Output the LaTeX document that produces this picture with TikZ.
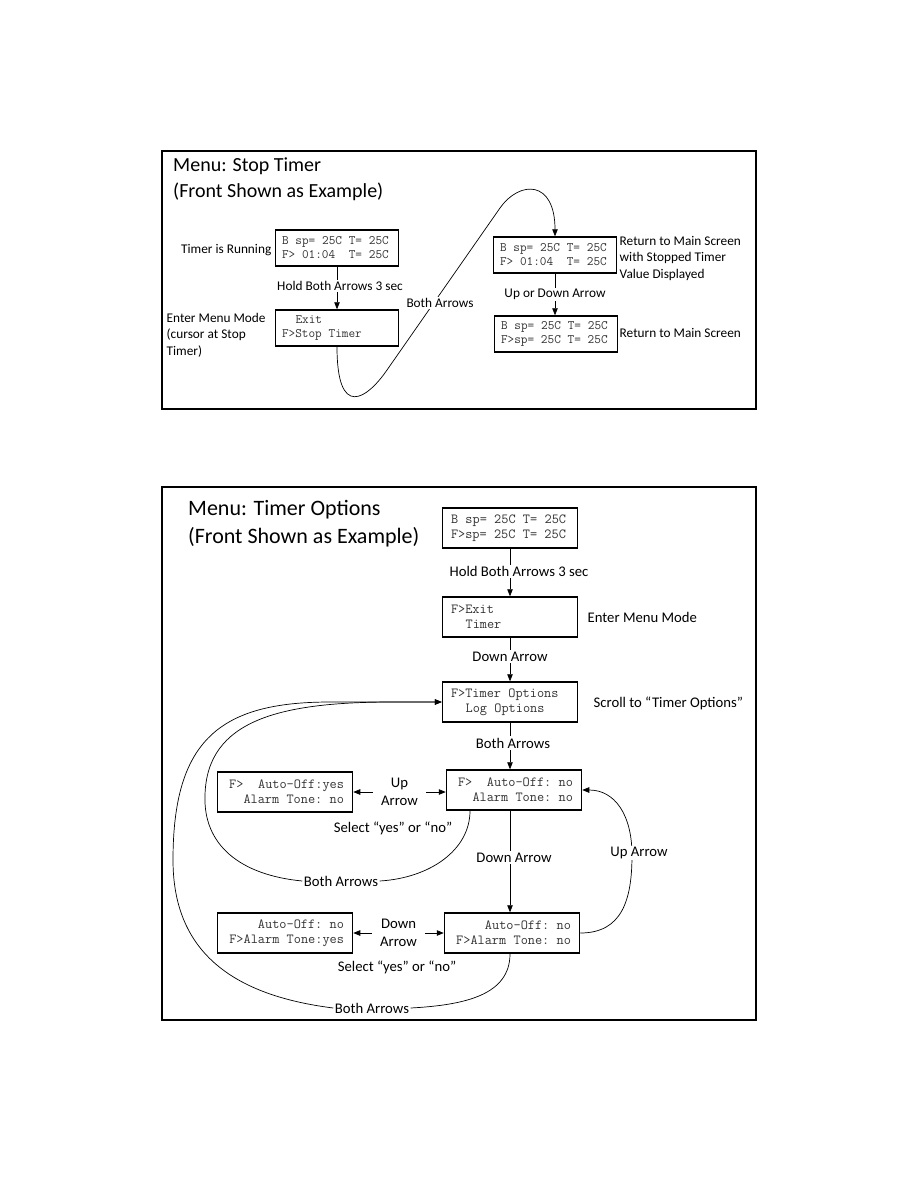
\documentclass[tikz,border=0pt]{standalone}
\usepackage{fontspec}
\setmainfont{Carlito}
\usetikzlibrary{arrows.meta}
\newcommand\lcdgap{\hspace*{0.525em}}

\begin{document}
\begin{tikzpicture}[x=1pt, y=-1pt,
    lcdtop/.style={draw, line width=1.5pt, minimum width=123pt, minimum height=36pt, inner sep=0pt, text width=110pt, text=black!80, font=\ttfamily\fontsize{12.9}{14}\selectfont},
    lcdbot/.style={draw, line width=1.5pt, minimum width=135pt, minimum height=40pt, inner sep=0pt, text width=118pt, text=black!80, font=\ttfamily\fontsize{13.9}{15}\selectfont},
    lbltop/.style={inner sep=1.5pt, font=\fontsize{13.3}{16.5}\selectfont},
    lblbot/.style={inner sep=1.5pt, font=\fontsize{14.7}{17.5}\selectfont},
    ttl/.style={anchor=west, align=left, inner sep=0pt},
    arr/.style={line width=0.7pt, -{Triangle[length=7pt,width=5.5pt]}},
    twoway/.style={line width=0.7pt, {Triangle[length=7pt,width=5.5pt]}-{Triangle[length=7pt,width=5.5pt]}},
    panel/.style={line width=1.2pt}]
    \fill[white] (0,0) rectangle (918,1188);
    \useasboundingbox (0,0) rectangle (918,1188);

    % stop timer
    \draw[panel] (162,151) rectangle (756,409);
    \draw[line width=2.5pt] (162,409) -- (756,409);
    \node[ttl, font=\fontsize{20}{26}\selectfont] (title1) at (173,179) {Menu: Stop Timer\\(Front Shown as Example)};

    \node[lcdtop, align=left] (run) at (337,248) {B\lcdgap sp=\lcdgap 25C\lcdgap T=\lcdgap 25C\\F>\lcdgap 01:04\lcdgap\lcdgap T=\lcdgap 25C};
    \node[lcdtop, align=left] (menu) at (337,328) {\lcdgap\lcdgap Exit\\F>Stop\lcdgap Timer};
    \node[lcdtop, align=left] (stop) at (555,255) {B\lcdgap sp=\lcdgap 25C\lcdgap T=\lcdgap 25C\\F>\lcdgap 01:04\lcdgap\lcdgap T=\lcdgap 25C};
    \node[lcdtop, align=left] (main) at (556,334) {B\lcdgap sp=\lcdgap 25C\lcdgap T=\lcdgap 25C\\F>sp=\lcdgap 25C\lcdgap T=\lcdgap 25C};

    \node[lbltop, anchor=east] (lrun) at (273,250) {Timer is Running};
    \node[lbltop, anchor=west, align=left] (lmenu) at (165,335) {Enter Menu Mode\\(cursor at Stop\\Timer)};
    \node[lbltop, anchor=west, align=left] (lstop) at (618,258) {Return to Main Screen\\with Stopped Timer\\Value Displayed};
    \node[lbltop, anchor=west] (lmain) at (618,333) {Return to Main Screen};

    \draw[arr] (run) -- node[lbltop, fill=white, xshift=3pt, yshift=2pt] (hold1) {Hold Both Arrows 3 sec} (menu);
    \draw[arr] (menu.south) .. controls (337,420) and (367,399) .. (387,370) -- (500,208) .. controls (520,180) and (555,180) .. (stop.north);
    \node[lbltop, fill=white] (both1) at (440,303) {Both Arrows};
    \draw[arr] (stop.south) -- node[lbltop, fill=white] (updown) {Up or Down Arrow} (stop.south |- main.north);

    % timer options
    \draw[panel] (162,487) rectangle (756,1020);
    \draw[line width=2.5pt] (162,1020) -- (756,1020);
    \node[ttl, font=\fontsize{22}{28}\selectfont] (title2) at (188,524) {Menu: Timer Options\\(Front Shown as Example)};

    \node[lcdbot, align=left] (boxA) at (510,528) {B\lcdgap sp=\lcdgap 25C\lcdgap T=\lcdgap 25C\\F>sp=\lcdgap 25C\lcdgap T=\lcdgap 25C};
    \node[lcdbot, align=left] (boxB) at (510,617) {F>Exit\\\lcdgap\lcdgap Timer};
    \node[lcdbot, align=left] (boxC) at (510,702) {F>Timer\lcdgap Options\\\lcdgap\lcdgap Log\lcdgap Options};
    \node[lcdbot, align=right] (boxD) at (514,790) {F>\lcdgap\lcdgap Auto-Off:\lcdgap no\\Alarm\lcdgap Tone:\lcdgap no};
    \node[lcdbot, align=right] (boxE) at (285,792) {F>\lcdgap\lcdgap Auto-Off:yes\\Alarm\lcdgap Tone:\lcdgap no};
    \node[lcdbot, align=right] (boxF) at (512,933) {Auto-Off:\lcdgap no\\F>Alarm\lcdgap Tone:\lcdgap no};
    \node[lcdbot, align=right] (boxG) at (285,933) {Auto-Off:\lcdgap no\\F>Alarm\lcdgap Tone:yes};

    \node[lblbot, anchor=west] (lenter) at (586,617) {Enter Menu Mode};
    \node[lblbot, anchor=west] (lscroll) at (592,703) {Scroll to “Timer Options”};
    \node[lblbot] (sel1) at (393,828) {Select “yes” or “no”};
    \node[lblbot] (sel2) at (397,967) {Select “yes” or “no”};

    \draw[arr] (boxA) -- node[lblbot, fill=white, xshift=9pt, yshift=1pt] (hold2) {Hold Both Arrows 3 sec} (boxB);
    \draw[arr] (boxB) -- node[lblbot, fill=white, yshift=3pt] (down1) {Down Arrow} (boxC);
    \draw[arr] (boxC.south) -- node[lblbot, fill=white, xshift=3pt, yshift=3pt] (both0) {Both Arrows} (boxC.south |- boxD.north);
    \draw[arr] (boxD.south -| boxC) -- node[lblbot, fill=white, xshift=4pt, yshift=4pt] (down2) {Down Arrow} (boxF.north -| boxC);
    \draw[arr] (boxF.east) .. controls (622,933) and (632,900) .. (632,855) .. controls (632,815) and (615,790) .. (boxD.east);
    \node[lblbot, fill=white] (uparr) at (639,853) {Up Arrow};

    \draw[twoway] (boxE.east) -- node[lblbot, fill=white, align=center, inner xsep=8.5pt] (upsel) {Up\\Arrow} (boxE.east -| boxD.west);
    \draw[twoway] (boxG.east) -- node[lblbot, fill=white, align=center, inner xsep=8.5pt] (downsel) {Down\\Arrow} (boxG.east -| boxF.west);

    \node[lblbot] (both2) at (341,881) {Both Arrows};
    \node[lblbot] (both3) at (372,1008) {Both Arrows};
    \draw[line width=0.7pt] ([xshift=-44pt]boxD.south) .. controls (470,850) and (430,878) .. (both2.east);
    \draw[arr] (both2.west) .. controls (240,875) and (203,845) .. (205,795) .. controls (207,720) and (280,702) .. (393,702) -- (boxC.west);
    \draw[line width=0.7pt] ([xshift=-2pt]boxF.south) .. controls (510,995) and (465,1005) .. (both3.east);
    \draw[arr] (both3.west) .. controls (230,995) and (173,950) .. (173,860) .. controls (173,740) and (220,702) .. (330,702) -- (boxC.west);
\end{tikzpicture}
\end{document}
